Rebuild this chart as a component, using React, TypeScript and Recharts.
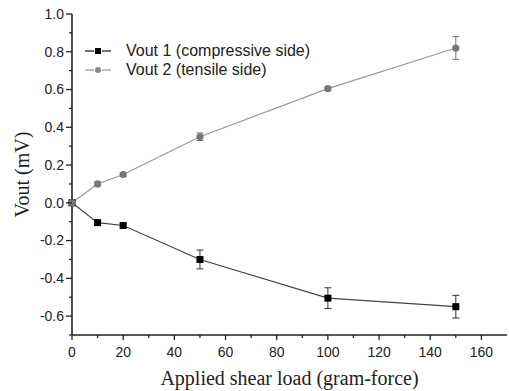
import { LineChart, Line, XAxis, YAxis, ErrorBar, Legend } from "recharts";

// applied shear load (gram-force)
const loads = [0, 10, 20, 50, 100, 150];
// Vout 1 (compressive side), mV
const vout1 = [0, -0.105, -0.12, -0.30, -0.505, -0.55];
const vout1Err = [0, 0.01, 0.01, 0.05, 0.055, 0.06];
// Vout 2 (tensile side), mV
const vout2 = [0, 0.10, 0.15, 0.35, 0.605, 0.82];
const vout2Err = [0, 0.01, 0.01, 0.02, 0.01, 0.06];

const xTicks = [0, 10, 20, 30, 40, 50, 60, 70, 80, 90, 100, 110, 120, 130, 140, 150, 160];
const yTicks = [-0.7, -0.6, -0.5, -0.4, -0.3, -0.2, -0.1, 0, 0.1, 0.2, 0.3, 0.4, 0.5, 0.6, 0.7, 0.8, 0.9, 1.0];

const data = loads.map((load, i) => ({
  load,
  v1: vout1[i],
  v1Err: vout1Err[i],
  v2: vout2[i],
  v2Err: vout2Err[i],
}));

const AXIS = "#222";
const TICK_FONT = "'Liberation Sans', Arial, sans-serif";
const TITLE_FONT = "'Liberation Serif', 'Times New Roman', serif";

const isMajorY = (v: number) => Math.round(v * 10) % 2 === 0;

// ticks are drawn by hand so that minor ticks can be shorter
const BottomTick = ({ x, y, payload }: any) => {
  const major = payload.value % 20 === 0;
  return (
    <g>
      <line x1={x} x2={x} y1={y} y2={y + (major ? 5 : 3)} stroke={AXIS} strokeWidth={1.3} />
      {major && (
        <text x={x} y={y + 22} textAnchor="middle" fontSize={14} fontFamily={TICK_FONT} fill="#222">
          {payload.value}
        </text>
      )}
    </g>
  );
};

const TopTick = ({ x, y, payload }: any) => {
  const major = payload.value % 20 === 0;
  return <line x1={x} x2={x} y1={y} y2={y + (major ? 5 : 3)} stroke={AXIS} strokeWidth={1.3} />;
};

const LeftTick = ({ x, y, payload }: any) => {
  const major = isMajorY(payload.value);
  return (
    <g>
      <line x1={x} x2={x - (major ? 6 : 3)} y1={y} y2={y} stroke={AXIS} strokeWidth={1.3} />
      {major && (
        <text x={x - 8} y={y} dy="0.35em" textAnchor="end" fontSize={14} fontFamily={TICK_FONT} fill="#222">
          {payload.value.toFixed(1)}
        </text>
      )}
    </g>
  );
};

const RightTick = ({ x, y, payload }: any) => {
  const major = isMajorY(payload.value);
  return <line x1={x} x2={x - (major ? 6 : 3)} y1={y} y2={y} stroke={AXIS} strokeWidth={1.3} />;
};

const SquareDot = (p: any) =>
  p.cx == null ? null : <rect key={p.index} x={p.cx - 3.5} y={p.cy - 3.5} width={7} height={7} fill="#000" />;

const CircleDot = (p: any) =>
  p.cx == null ? null : <circle key={p.index} cx={p.cx} cy={p.cy} r={3.6} fill="#777" />;

const legendRows = [
  { name: "Vout 1 (compressive side)", line: "#444", marker: "square", color: "#000" },
  { name: "Vout 2 (tensile side)", line: "#aaa", marker: "circle", color: "#888" },
];

const LegendBox = () => (
  <div style={{ fontFamily: TICK_FONT, fontSize: 16, color: "#222" }}>
    {legendRows.map((r) => (
      <div key={r.name} style={{ display: "flex", alignItems: "center", height: 19 }}>
        <svg width={43} height={12}>
          <line x1={2} x2={11} y1={6} y2={6} stroke={r.line} strokeWidth={1.5} />
          <line x1={19} x2={28} y1={6} y2={6} stroke={r.line} strokeWidth={1.5} />
          {r.marker === "square" ? (
            <rect x={12} y={3} width={6} height={6} fill={r.color} />
          ) : (
            <circle cx={15} cy={6} r={3} fill={r.color} />
          )}
        </svg>
        <span>{r.name}</span>
      </div>
    ))}
  </div>
);

export default function App() {
  return (
    <div style={{ position: "absolute", left: 0, top: 0, background: "#fff" }}>
      <LineChart width={509} height={391} data={data} margin={{ top: 14, right: 2, left: 0, bottom: 0 }}>
        <XAxis
          dataKey="load"
          type="number"
          domain={[0, 170]}
          ticks={xTicks}
          interval={0}
          height={56}
          tickSize={0}
          tickMargin={0}
          tick={<BottomTick />}
          axisLine={{ stroke: AXIS, strokeWidth: 1.6 }}
          label={{
            value: "Applied shear load (gram-force)",
            position: "insideBottom",
            offset: 6,
            style: { fontFamily: TITLE_FONT, fontSize: 20, fill: "#222" },
          }}
        />
        <XAxis
          xAxisId="top"
          orientation="top"
          dataKey="load"
          type="number"
          domain={[0, 170]}
          ticks={xTicks}
          interval={0}
          height={0}
          tickSize={0}
          tickMargin={0}
          tick={<TopTick />}
          axisLine={{ stroke: AXIS, strokeWidth: 1.6 }}
        />
        <YAxis
          type="number"
          domain={[-0.7, 1.0]}
          ticks={yTicks}
          interval={0}
          width={72}
          tickSize={0}
          tickMargin={0}
          tick={<LeftTick />}
          axisLine={{ stroke: AXIS, strokeWidth: 1.6 }}
          label={{
            value: "Vout (mV)",
            angle: -90,
            position: "insideLeft",
            offset: 22,
            style: { textAnchor: "middle", fontFamily: TITLE_FONT, fontSize: 20, fill: "#222" },
          }}
        />
        <YAxis
          yAxisId="right"
          orientation="right"
          type="number"
          domain={[-0.7, 1.0]}
          ticks={yTicks}
          interval={0}
          width={0}
          tickSize={0}
          tickMargin={0}
          tick={<RightTick />}
          axisLine={{ stroke: AXIS, strokeWidth: 1.6 }}
        />
        <Legend
          layout="vertical"
          align="center"
          verticalAlign="middle"
          content={<LegendBox />}
          wrapperStyle={{ top: 41, left: 83, width: 280 }}
        />
        <Line
          dataKey="v1"
          name="Vout 1 (compressive side)"
          stroke="#444"
          strokeWidth={1.2}
          dot={<SquareDot />}
          activeDot={false}
          isAnimationActive={false}
        >
          <ErrorBar dataKey="v1Err" direction="y" width={3.5} stroke="#333" strokeWidth={1} isAnimationActive={false} />
        </Line>
        <Line
          dataKey="v2"
          name="Vout 2 (tensile side)"
          stroke="#999"
          strokeWidth={1.2}
          dot={<CircleDot />}
          activeDot={false}
          isAnimationActive={false}
        >
          <ErrorBar dataKey="v2Err" direction="y" width={3.5} stroke="#777" strokeWidth={1} isAnimationActive={false} />
        </Line>
      </LineChart>
    </div>
  );
}
